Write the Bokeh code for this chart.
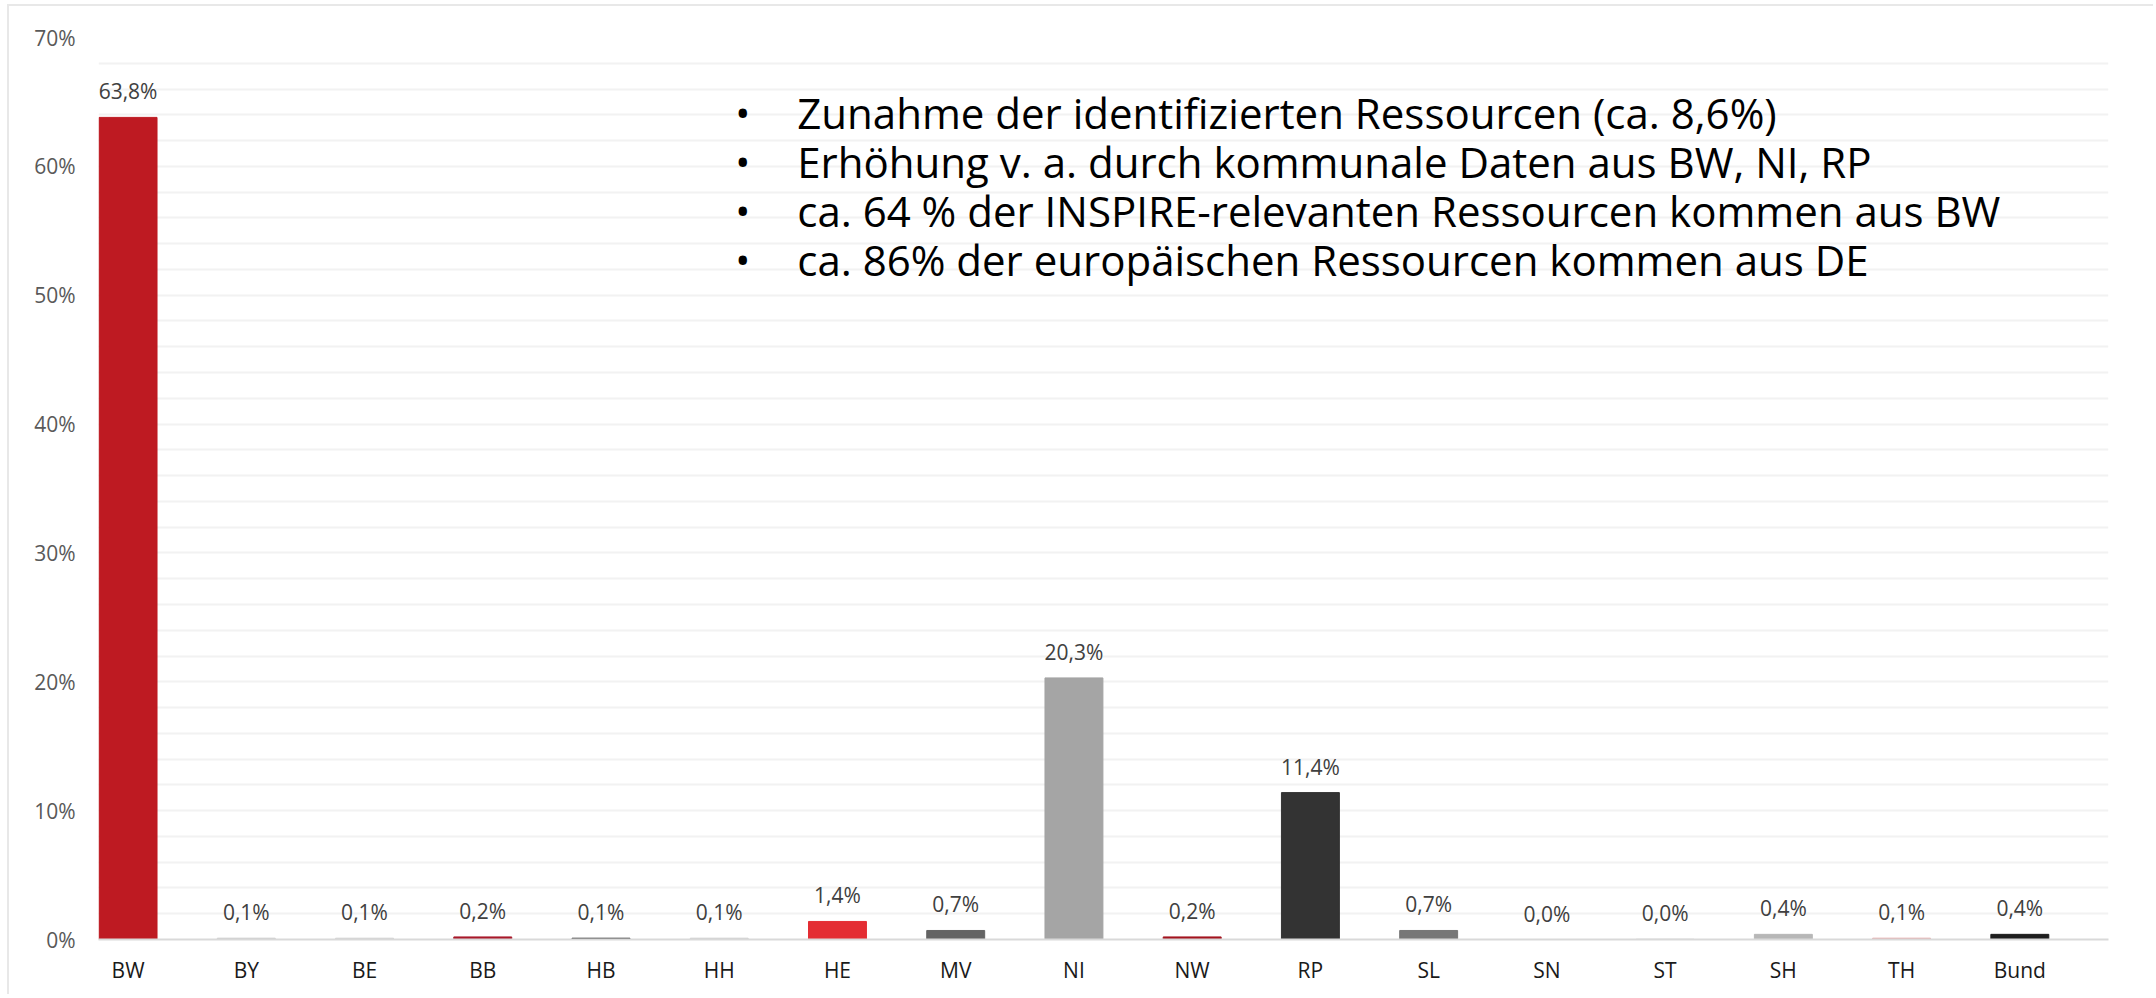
from bokeh.plotting import figure
from bokeh.models import Range1d, FixedTicker, ColumnDataSource
from bokeh.embed import file_html
from bokeh.resources import INLINE
from bokeh.core.properties import value

# ---- data ----
categories = ["BW", "BY", "BE", "BB", "HB", "HH", "HE", "MV", "NI", "NW",
              "RP", "SL", "SN", "ST", "SH", "TH", "Bund"]
shares = [63.8, 0.1, 0.1, 0.2, 0.1, 0.1, 1.4, 0.7, 20.3, 0.2,
          11.4, 0.7, 0.0, 0.03, 0.4, 0.1, 0.4]
bar_colors = ["#BE1A22", "#C9C9C9", "#CFCFCF", "#A8192A", "#3A3A3A", "#CDCDCD",
              "#E42D33", "#646464", "#A5A5A5", "#A3141F", "#333333", "#777777",
              "#D9D9D9", "#D9D9D9", "#B7B7B7", "#E2A5A5", "#1E1E1E"]
y_ticks = [0, 10, 20, 30, 40, 50, 60, 70]
y_tick_labels = ["0%", "10%", "20%", "30%", "40%", "50%", "60%", "70%"]
bullets = [
    "Zunahme der identifizierten Ressourcen (ca. 8,6%)",
    "Erhöhung v. a. durch kommunale Daten aus BW, NI, RP",
    "ca. 64 % der INSPIRE-relevanten Ressourcen kommen aus BW",
    "ca. 86% der europäischen Ressourcen kommen aus DE",
]

labels = [("%.1f" % v).replace(".", ",") + "%" for v in shares]
xs = list(range(len(categories)))

src = ColumnDataSource(dict(x=xs, top=shares, color=bar_colors, label=labels))

FONT = "Open Sans"

p = figure(width=2146, height=990, output_backend="svg", toolbar_location=None,
           x_range=Range1d(-0.25, 16.75), y_range=Range1d(0, 70),
           min_border_left=89, min_border_right=47, min_border_top=31, min_border_bottom=57)
p.styles = {"margin-left": "7px", "margin-top": "4px",
            "border-top": "2px solid #E8E8E8", "border-left": "2px solid #E8E8E8"}
p.outline_line_color = None
p.background_fill_color = "white"
p.border_fill_color = "white"

p.vbar(x="x", top="top", width=0.49, color="color", source=src)
p.text(x="x", y="top", text="label", source=src, text_align="center",
       text_baseline="middle", y_offset=-26, text_font=value(FONT),
       text_font_size="21px", text_color="#404040")

# bullets
n = len(bullets)
line_y = [64.2 - 3.8 * i for i in range(n)]
p.text(x=[5.2] * n, y=line_y, text=["•"] * n,
       text_align="center", text_baseline="middle", text_font=value(FONT),
       text_font_size="40px", text_color="#000000")
p.text(x=[5.66] * n, y=line_y, text=bullets,
       text_align="left", text_baseline="middle", text_font=value(FONT),
       text_font_size="42px", text_color="#000000")

# axes
p.xaxis.ticker = FixedTicker(ticks=xs)
p.xaxis.major_label_overrides = {i: c for i, c in zip(xs, categories)}
p.xaxis.axis_line_color = "#D9D9D9"
p.xaxis.axis_line_width = 2
p.xaxis.major_tick_line_color = None
p.xaxis.minor_tick_line_color = None
p.xaxis.major_label_standoff = 10
p.xaxis.major_label_text_font = FONT
p.xaxis.major_label_text_font_size = "21px"
p.xaxis.major_label_text_color = "#1A1A1A"

p.yaxis.ticker = FixedTicker(ticks=y_ticks)
p.yaxis.major_label_overrides = {t: l for t, l in zip(y_ticks, y_tick_labels)}
p.yaxis.axis_line_color = None
p.yaxis.major_tick_line_color = None
p.yaxis.minor_tick_line_color = None
p.yaxis.major_label_standoff = 17
p.yaxis.major_label_text_font = FONT
p.yaxis.major_label_text_font_size = "21px"
p.yaxis.major_label_text_color = "#595959"

p.xgrid.grid_line_color = None
p.ygrid.ticker = FixedTicker(ticks=list(range(2, 72, 2)))
p.ygrid.grid_line_color = "#F2F2F2"
p.ygrid.grid_line_width = 2

open("out.html", "w").write(file_html(p, INLINE))
